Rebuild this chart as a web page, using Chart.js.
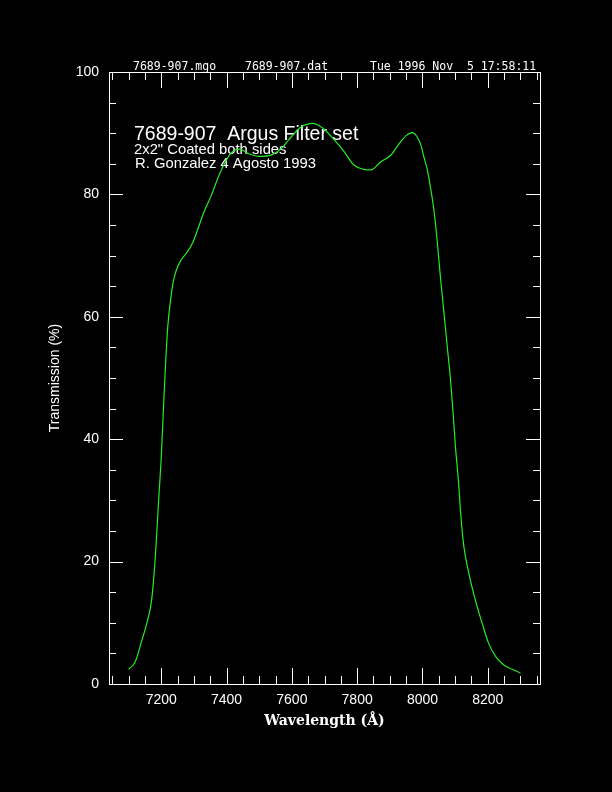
<!DOCTYPE html>
<html>
<head>
<meta charset="utf-8">
<script src="https://cdn.jsdelivr.net/npm/chart.js@4.4.1/dist/chart.umd.min.js"></script>
<style>
  html, body { margin: 0; padding: 0; background: #000; }
  #wrap { width: 612px; height: 792px; }
</style>
</head>
<body>
<div id="wrap"><canvas id="filterChart" width="612" height="792"></canvas></div>
<script>
// Filter transmission curve
const wavelengths = [
    7100, 7120, 7140, 7160, 7170, 7178, 7185, 7192, 7200, 7207,
    7213, 7220, 7228, 7236, 7246, 7260, 7280, 7297, 7312, 7330,
    7353, 7380, 7410, 7440, 7470, 7500, 7540, 7570, 7590, 7628,
    7665, 7690, 7700, 7730, 7760, 7790, 7820, 7842, 7872, 7903,
    7933, 7950, 7969, 7985, 7995, 8005, 8015, 8025, 8035, 8045,
    8055, 8066, 8076, 8086, 8094, 8101, 8110, 8117, 8127, 8142,
    8162, 8183, 8203, 8224, 8249, 8275, 8300
];
const transmission = [
    2.4, 3.6, 7.0, 10.8, 13.5, 18.0, 23.5, 30.0, 37.0, 45.3,
    52.0, 58.4, 62.5, 65.5, 67.6, 69.2, 70.6, 72.2, 74.3, 77.0,
    79.8, 83.5, 86.5, 87.4, 86.6, 86.2, 86.5, 87.6, 88.9, 91.0,
    91.6, 91.0, 90.6, 88.9, 87.0, 84.8, 84.1, 84.0, 85.3, 86.4,
    88.6, 89.6, 90.1, 89.3, 88.1, 86.0, 84.0, 81.0, 77.5, 72.5,
    66.5, 60.6, 55.1, 49.7, 44.2, 38.8, 33.3, 27.9, 22.4, 18.1,
    13.7, 9.9, 6.6, 4.5, 3.1, 2.4, 1.8
];

const xLabelTicks = [7200, 7400, 7600, 7800, 8000, 8200];
const yLabelTicks = [0, 20, 40, 60, 80, 100];

const headerParts = ['7689-907.mgo', '7689-907.dat', 'Tue 1996 Nov  5 17:58:11'];
const titleLines = ['7689-907  Argus Filter set', '2x2" Coated both sides', 'R. Gonzalez 4 Agosto 1993'];

const WHITE = '#ffffff';
const GREEN = '#22ee22';

// black page behind everything
const background = {
    id: 'background',
    beforeDraw(chart) {
        const ctx = chart.ctx;
        ctx.save();
        ctx.fillStyle = '#000';
        ctx.fillRect(0, 0, chart.width, chart.height);
        ctx.restore();
    }
};

// box with inward ticks on all four sides
const frameTicks = {
    id: 'frameTicks',
    afterDraw(chart) {
        const ctx = chart.ctx;
        const a = chart.chartArea;
        const xs = chart.scales.x;
        const ys = chart.scales.y;
        ctx.save();
        ctx.strokeStyle = WHITE;
        ctx.lineWidth = 1;
        ctx.strokeRect(a.left + 0.5, a.top + 0.5, a.right - a.left, a.bottom - a.top);

        ctx.beginPath();
        for (let v = 7050; v <= 8350; v += 50) {
            const px = Math.round(xs.getPixelForValue(v)) + 0.5;
            const len = v % 200 === 0 ? 16 : 8;
            ctx.moveTo(px, a.bottom);
            ctx.lineTo(px, a.bottom - len);
            ctx.moveTo(px, a.top);
            ctx.lineTo(px, a.top + len);
        }
        for (let v = 5; v < 100; v += 5) {
            const py = Math.round(ys.getPixelForValue(v)) + 0.5;
            const len = v % 20 === 0 ? 14 : 7;
            ctx.moveTo(a.left, py);
            ctx.lineTo(a.left + len, py);
            ctx.moveTo(a.right, py);
            ctx.lineTo(a.right - len, py);
        }
        ctx.stroke();
        ctx.restore();
    }
};

// header line and the label block inside the plot
const annotations = {
    id: 'annotations',
    beforeDatasetsDraw(chart) {
        const ctx = chart.ctx;
        ctx.save();
        ctx.fillStyle = WHITE;
        ctx.textBaseline = 'alphabetic';

        ctx.font = '11.5px "DejaVu Sans Mono"';
        ctx.fillText(headerParts[0], 133, 70);
        ctx.fillText(headerParts[1], 245, 70);
        ctx.fillText(headerParts[2], 370, 70);

        ctx.font = '19.5px "Liberation Sans"';
        ctx.fillText(titleLines[0], 134, 140);
        ctx.font = '14.8px "Liberation Sans"';
        ctx.fillText(titleLines[1], 134, 154);
        ctx.fillText(titleLines[2], 135, 168);
        ctx.restore();
    }
};

const ctx = document.getElementById('filterChart').getContext('2d');
const chart = new Chart(ctx, {
    type: 'line',
    data: {
        datasets: [{
            data: wavelengths.map((w, i) => ({ x: w, y: transmission[i] })),
            borderColor: GREEN,
            borderWidth: 1.2,
            pointRadius: 0,
            fill: false,
            cubicInterpolationMode: 'monotone'
        }]
    },
    options: {
        responsive: false,
        devicePixelRatio: 1,
        animation: false,
        layout: { padding: { top: 72, right: 72, left: 0, bottom: 0 } },
        plugins: {
            legend: { display: false },
            tooltip: { enabled: false }
        },
        scales: {
            x: {
                type: 'linear',
                min: 7040,
                max: 8360,
                afterFit: s => { s.height = 108; },
                afterBuildTicks: s => { s.ticks = xLabelTicks.map(v => ({ value: v })); },
                grid: { display: false, drawTicks: false },
                border: { display: false },
                ticks: {
                    color: WHITE,
                    font: { family: 'Liberation Sans', size: 14 },
                    padding: 8,
                    maxRotation: 0,
                    autoSkip: false,
                    callback: v => String(v)
                },
                title: {
                    display: true,
                    text: 'Wavelength (Å)',
                    color: WHITE,
                    font: { family: 'DejaVu Serif', size: 14, weight: 'bold' },
                    padding: { top: 0, bottom: 62 }
                }
            },
            y: {
                min: 0,
                max: 100,
                afterFit: s => { s.width = 109; },
                afterBuildTicks: s => { s.ticks = yLabelTicks.map(v => ({ value: v })); },
                grid: { display: false, drawTicks: false },
                border: { display: false },
                ticks: {
                    color: WHITE,
                    font: { family: 'Liberation Sans', size: 14 },
                    padding: 10,
                    callback: v => String(v)
                },
                title: {
                    display: true,
                    text: 'Transmission (%)',
                    color: WHITE,
                    font: { family: 'Liberation Sans', size: 14 },
                    padding: { top: 47, bottom: 0 }
                }
            }
        }
    },
    plugins: [background, annotations, frameTicks]
});
</script>
</body>
</html>
